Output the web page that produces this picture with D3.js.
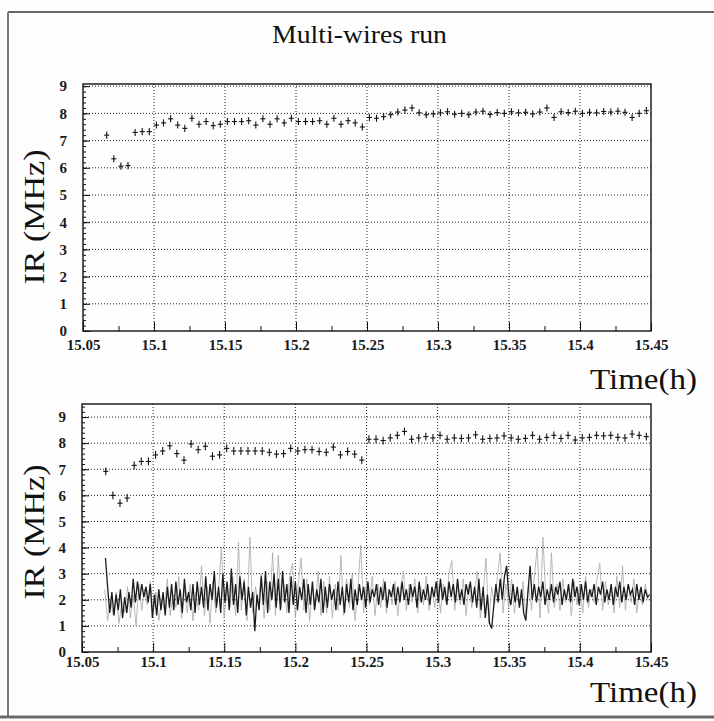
<!DOCTYPE html>
<html>
<head>
<meta charset="utf-8">
<script src="https://cdn.jsdelivr.net/npm/d3@7"></script>
<style>
  body { margin: 0; background: #fff; }
  svg { display: block; }
  .tk text { font-family: "Liberation Serif", "Times New Roman", serif; font-weight: bold; font-size: 15px; fill: #1a1a1a; }
  .tk line { stroke: #111; }
  .lbl { font-family: "Liberation Serif", "Times New Roman", serif; fill: #111; }
</style>
</head>
<body>
<div id="chart"></div>
<script>
// ticks
const xTicks = [15.05, 15.1, 15.15, 15.2, 15.25, 15.3, 15.35, 15.4, 15.45];
const xMinor = [15.075, 15.125, 15.175, 15.225, 15.275, 15.325, 15.375, 15.425];
const yTicks = [0, 1, 2, 3, 4, 5, 6, 7, 8, 9];

// interaction rate with error crosses, one point every 0.005 h
const crossT0 = 15.0667, crossDt = 0.005;
const topRate = [
  7.2, 6.33, 6.06, 6.08, 7.3, 7.33, 7.33, 7.57, 7.65, 7.8, 7.57, 7.45, 7.82, 7.6, 7.7, 7.55,
  7.6, 7.7, 7.7, 7.7, 7.73, 7.57, 7.8, 7.6, 7.8, 7.65, 7.82, 7.7, 7.7, 7.7, 7.73, 7.6,
  7.82, 7.6, 7.73, 7.65, 7.5, 7.85, 7.82, 7.88, 7.95, 8.05, 8.12, 8.2, 8.02, 7.95, 7.98, 8.02,
  8.06, 7.97, 8.0, 7.95, 8.05, 8.08, 7.96, 8.03, 8.0, 8.06, 8.02, 8.04, 7.98, 8.05, 8.2, 7.85,
  8.06, 8.03, 8.08, 8.0, 8.04, 8.02, 8.07, 8.05, 8.08, 8.04, 7.85, 8.0, 8.1
];
const botRate = [
  6.92, 6.0, 5.7, 5.9, 7.15, 7.3, 7.3, 7.55, 7.7, 7.9, 7.6, 7.35, 7.97, 7.75, 7.88, 7.5,
  7.55, 7.8, 7.7, 7.7, 7.7, 7.7, 7.7, 7.65, 7.58, 7.6, 7.8, 7.7, 7.75, 7.75, 7.68, 7.65,
  7.85, 7.55, 7.68, 7.58, 7.35, 8.15, 8.15, 8.1, 8.2, 8.3, 8.45, 8.15, 8.2, 8.25, 8.2, 8.3,
  8.15, 8.2, 8.18, 8.2, 8.32, 8.15, 8.18, 8.2, 8.28, 8.2, 8.15, 8.18, 8.3, 8.15, 8.22, 8.3,
  8.18, 8.3, 8.12, 8.2, 8.22, 8.3, 8.28, 8.3, 8.22, 8.2, 8.35, 8.3, 8.25
];
const errT = 0.0018, errTop = 0.13, errBot = 0.15;

// single wire rates (bottom panel)
const darkT0 = 15.0665, darkDt = 0.0015;
const wireDark = [
  3.6, 2.5, 1.5, 2.3, 1.4, 2.2, 1.6, 2.4, 1.3, 2.1, 1.5, 2.3, 1.7, 2.8, 1.9, 2.7,
  2.0, 2.6, 2.1, 2.5, 1.9, 2.6, 1.3, 2.2, 1.4, 2.4, 1.6, 2.3, 1.4, 2.5, 1.7, 2.6,
  1.6, 2.7, 1.8, 2.4, 1.5, 2.8, 1.9, 2.3, 1.6, 2.6, 1.5, 2.7, 1.8, 2.5, 1.7, 2.9,
  1.6, 2.6, 2.0, 3.1, 1.7, 2.5, 1.5, 3.0, 1.9, 2.7, 1.6, 3.2, 1.8, 2.6, 1.5, 2.9,
  2.0, 2.7, 1.4, 2.5, 1.7, 2.3, 0.8, 2.2, 1.6, 2.9, 1.8, 3.1, 1.5, 2.7, 2.0, 3.0,
  1.7, 2.8, 1.6, 3.1, 1.9, 2.6, 1.5, 2.9, 1.8, 2.7, 1.6, 2.5, 2.0, 2.8, 1.5, 2.6,
  1.8, 2.7, 1.6, 2.4, 1.9, 2.8, 1.5, 2.5, 1.7, 2.6, 2.0, 2.4, 1.6, 2.7, 1.8, 2.5,
  1.5, 2.6, 1.9, 2.8, 1.6, 2.4, 1.8, 2.6, 2.0, 2.5, 1.7, 2.7, 1.9, 2.4, 2.1, 2.6,
  1.8, 2.5, 2.0, 2.7, 1.7, 2.4, 2.1, 2.6, 1.8, 2.5, 1.9, 2.7, 2.0, 2.4, 1.8, 2.6,
  2.1, 2.5, 1.7, 2.7, 1.9, 2.4, 2.0, 2.6, 1.8, 2.5, 2.1, 2.7, 1.9, 2.8, 2.0, 2.5,
  1.8, 2.7, 2.1, 2.6, 1.9, 2.8, 2.0, 2.4, 1.8, 2.6, 2.2, 2.7, 1.9, 2.5, 1.7, 2.8,
  1.6, 2.5, 1.3, 2.2, 1.1, 0.9, 1.8, 2.6, 1.9, 2.8, 2.0, 2.9, 3.3, 2.2, 1.8, 2.6,
  1.9, 2.5, 1.7, 2.4, 1.5, 1.2, 2.3, 3.3, 2.0, 2.6, 1.9, 2.5, 2.1, 2.7, 1.8, 2.4,
  2.0, 2.6, 1.9, 2.5, 2.2, 2.7, 1.8, 2.4, 2.0, 2.6, 1.9, 2.8, 2.1, 2.5, 1.8, 2.6,
  2.0, 2.7, 1.9, 2.4, 2.1, 2.6, 1.8, 2.5, 2.2, 2.7, 1.9, 2.4, 2.0, 2.6, 1.8, 2.5,
  2.1, 2.7, 1.9, 2.5, 2.0, 2.6, 2.2, 2.4, 1.8, 2.6, 2.0, 2.5, 1.9, 2.4, 2.1, 2.2
];
const greyT0 = 15.066, greyDt = 0.002;
const wireGrey = [
  2.4, 1.2, 2.0, 1.4, 2.3, 1.1, 1.9, 1.5, 2.5, 1.3, 2.2, 1.0, 2.6, 1.6, 2.4, 1.8,
  2.7, 1.5, 2.3, 1.2, 2.0, 1.6, 2.8, 1.4, 2.2, 1.7, 2.9, 1.3, 2.4, 1.5, 2.6, 1.2,
  2.3, 1.6, 3.3, 1.4, 2.5, 1.1, 2.7, 1.5, 2.4, 4.0, 1.3, 2.6, 1.7, 2.9, 1.4, 4.2,
  1.6, 2.8, 1.2, 4.4, 1.5, 2.5, 1.8, 3.0, 1.3, 2.7, 1.6, 3.8, 1.4, 3.7, 1.7, 2.6,
  1.5, 2.9, 3.4, 1.3, 2.6, 3.6, 1.6, 2.8, 1.2, 2.5, 1.7, 3.1, 1.4, 2.7, 1.5, 2.9,
  1.3, 2.6, 1.6, 3.7, 1.4, 2.8, 1.7, 3.0, 1.2, 2.5, 4.1, 1.5, 2.7, 1.8, 2.9, 1.4,
  2.6, 1.7, 2.8, 1.5, 2.4, 1.8, 2.7, 1.4, 2.5, 3.1, 1.6, 2.6, 1.9, 2.8, 1.5, 2.5,
  1.8, 2.9, 1.6, 2.4, 1.7, 2.7, 1.5, 2.6, 1.9, 3.0, 3.5, 1.6, 2.5, 1.8, 2.8, 1.4,
  2.6, 1.7, 2.4, 3.1, 1.3, 2.2, 3.6, 1.1, 2.5, 1.8, 2.9, 3.8, 1.5, 2.6, 1.7, 2.8,
  1.5, 2.4, 1.8, 2.7, 1.4, 2.6, 1.6, 2.9, 4.0, 1.3, 4.4, 2.2, 1.5, 3.8, 1.7, 2.6,
  1.6, 2.8, 1.9, 2.5, 1.4, 2.7, 1.8, 2.6, 1.5, 2.9, 1.7, 2.4, 1.9, 2.8, 3.4, 1.6,
  2.7, 1.8, 2.5, 1.5, 2.9, 1.7, 3.3, 1.6, 2.6, 1.9, 2.8, 1.5, 2.4, 1.8, 2.6, 2.0
];

const width = 714, height = 721;
const svg = d3.select("#chart").append("svg")
    .attr("width", width)
    .attr("height", height);

// scanned page frame
svg.append("rect").attr("width", width).attr("height", height).attr("fill", "#fefefe");
svg.append("line").attr("x1", 8).attr("x2", 714).attr("y1", 12).attr("y2", 12)
    .attr("stroke", "#666").attr("stroke-width", 2);
svg.append("line").attr("x1", 8).attr("x2", 8).attr("y1", 12).attr("y2", 717)
    .attr("stroke", "#777").attr("stroke-width", 2);
svg.append("line").attr("x1", 0).attr("x2", 714).attr("y1", 717).attr("y2", 717)
    .attr("stroke", "#6a6a6a").attr("stroke-width", 3);

svg.append("text").attr("class", "lbl")
    .attr("x", 272).attr("y", 43)
    .attr("font-size", 26)
    .attr("textLength", 175).attr("lengthAdjust", "spacingAndGlyphs")
    .text("Multi-wires run");

function drawPanel(p) {
    const x = d3.scaleLinear().domain([15.05, 15.45]).range([p.x0, p.x1]);
    const y = d3.scaleLinear().domain([0, p.ymax]).range([p.y1, p.y0]);
    const g = svg.append("g");

    // dotted grid
    g.selectAll(".gx").data(xTicks.slice(1, -1)).join("line")
        .attr("x1", d => x(d)).attr("x2", d => x(d))
        .attr("y1", p.y0).attr("y2", p.y1)
        .attr("stroke", "#222").attr("stroke-width", 1).attr("stroke-dasharray", "1,2");
    g.selectAll(".gy").data(yTicks.slice(1)).join("line")
        .attr("x1", p.x0).attr("x2", p.x1)
        .attr("y1", d => y(d)).attr("y2", d => y(d))
        .attr("stroke", "#222").attr("stroke-width", 1).attr("stroke-dasharray", "1,2");

    // axes, ticks pointing inwards
    g.append("g").attr("class", "tk").attr("transform", `translate(0,${p.y1})`)
        .call(d3.axisBottom(x).tickValues(xTicks).tickSize(-9).tickPadding(p.xPad).tickFormat(d3.format("")))
        .call(a => a.select(".domain").remove());
    g.append("g").attr("class", "tk").attr("transform", `translate(0,${p.y1})`)
        .call(d3.axisBottom(x).tickValues(xMinor).tickSize(-5).tickFormat(""))
        .call(a => a.select(".domain").remove());
    g.append("g").attr("class", "tk").attr("transform", `translate(${p.x0},0)`)
        .call(d3.axisLeft(y).tickValues(yTicks).tickSize(-7).tickPadding(16))
        .call(a => a.select(".domain").remove());
    g.append("g").attr("class", "tk").attr("transform", `translate(${p.x0},0)`)
        .call(d3.axisLeft(y).tickValues(d3.range(0, p.ymax, 0.2)).tickSize(-3).tickFormat(""))
        .call(a => a.select(".domain").remove());

    // frame
    g.append("rect")
        .attr("x", p.x0).attr("y", p.y0)
        .attr("width", p.x1 - p.x0).attr("height", p.y1 - p.y0)
        .attr("fill", "none").attr("stroke", "#111").attr("stroke-width", 1.4);

    if (p.wires) {
        const lineOf = (t0, dt) => d3.line().x((d, i) => x(t0 + i * dt)).y(d => y(d));
        g.append("path").datum(wireGrey)
            .attr("d", lineOf(greyT0, greyDt))
            .attr("fill", "none").attr("stroke", "#a8a8a8").attr("stroke-width", 0.8);
        g.append("path").datum(wireDark)
            .attr("d", lineOf(darkT0, darkDt))
            .attr("fill", "none").attr("stroke", "#1c1c1c").attr("stroke-width", 1.3);
    }

    // crosses with error bars
    const pts = g.append("g").attr("stroke", "#111").attr("stroke-width", 1.1);
    pts.selectAll(".h").data(p.rate).join("line")
        .attr("x1", (d, i) => x(crossT0 + i * crossDt - errT))
        .attr("x2", (d, i) => x(crossT0 + i * crossDt + errT))
        .attr("y1", d => y(d)).attr("y2", d => y(d));
    pts.selectAll(".v").data(p.rate).join("line")
        .attr("x1", (d, i) => x(crossT0 + i * crossDt))
        .attr("x2", (d, i) => x(crossT0 + i * crossDt))
        .attr("y1", d => y(d - p.err)).attr("y2", d => y(d + p.err));

    // axis titles
    svg.append("text").attr("class", "lbl")
        .attr("transform", `translate(44,${p.irMid}) rotate(-90)`)
        .attr("text-anchor", "middle")
        .attr("font-size", 29)
        .attr("textLength", 135).attr("lengthAdjust", "spacingAndGlyphs")
        .text("IR (MHz)");
    svg.append("text").attr("class", "lbl")
        .attr("x", 590).attr("y", p.timeY)
        .attr("font-size", 29)
        .attr("textLength", 107).attr("lengthAdjust", "spacingAndGlyphs")
        .text("Time(h)");
}

drawPanel({x0: 83, x1: 651, y0: 84, y1: 331, ymax: 9.08, xPad: 8, rate: topRate, err: errTop,
           wires: false, irMid: 217, timeY: 389});
drawPanel({x0: 82, x1: 651, y0: 404, y1: 652, ymax: 9.5, xPad: 4, rate: botRate, err: errBot,
           wires: true, irMid: 532, timeY: 702});
</script>
</body>
</html>
